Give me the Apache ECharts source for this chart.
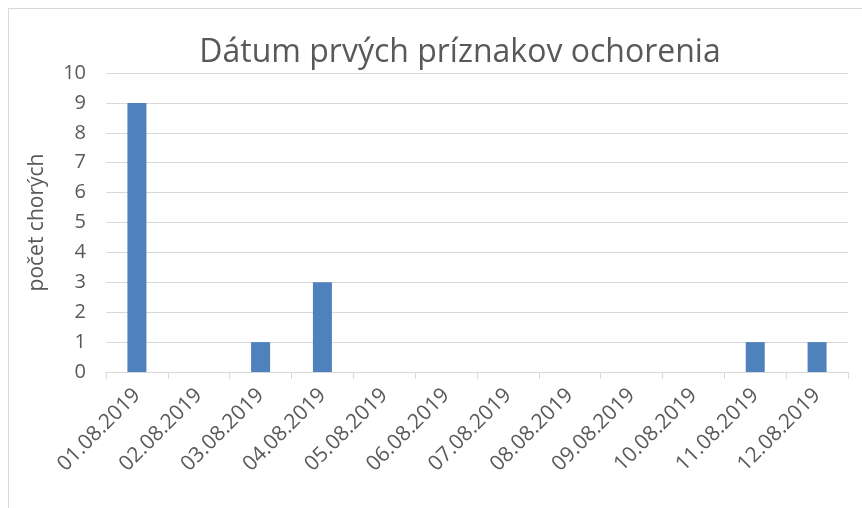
<!DOCTYPE html>
<html lang="sk">
<head>
  <meta charset="UTF-8">
  <title>Dátum prvých príznakov ochorenia</title>
  <script src="https://cdn.jsdelivr.net/npm/echarts@6/dist/echarts.min.js"></script>
</head>
<style>
  * {
    margin: 0px;
    padding: 0px;
  }

  body {
    background: #fff;
    overflow: hidden;
  }

  #frame {
    position: absolute;
    left: 8px;
    top: 8px;
    width: 900px;
    height: 600px;
    border: 1px solid #d9d9d9;
  }

  #chart {
    position: absolute;
    left: 0px;
    top: 0px;
    width: 862px;
    height: 508px;
  }
</style>

<body>
  <div id="frame"></div>
  <div id="chart"></div>
</body>
<script>
  var dates = ['01.08.2019', '02.08.2019', '03.08.2019', '04.08.2019', '05.08.2019', '06.08.2019',
    '07.08.2019', '08.08.2019', '09.08.2019', '10.08.2019', '11.08.2019', '12.08.2019'];
  var counts = [9, 0, 1, 3, 0, 0, 0, 0, 0, 0, 1, 1];

  var font = '"Open Sans", sans-serif';
  var chart = echarts.init(document.getElementById('chart'));
  chart.setOption({
    animation: false,
    title: {
      text: 'Dátum prvých príznakov ochorenia',
      left: 455,
      textAlign: 'center',
      top: 32,
      textStyle: {
        color: '#595959',
        fontSize: 32,
        fontWeight: 'normal',
        fontFamily: font
      }
    },
    grid: {
      left: 106,
      right: 14,
      top: 73,
      bottom: 136,
      containLabel: false
    },
    xAxis: {
      type: 'category',
      data: dates,
      axisLine: { lineStyle: { color: '#d9d9d9', width: 1 } },
      axisTick: { show: true, length: 7, lineStyle: { color: '#d9d9d9' } },
      axisLabel: {
        rotate: 45,
        interval: 0,
        color: '#595959',
        fontSize: 21,
        fontFamily: font,
        margin: 20
      }
    },
    yAxis: {
      type: 'value',
      min: 0,
      max: 10,
      interval: 1,
      name: 'počet chorých',
      nameLocation: 'middle',
      nameGap: 58,
      nameTextStyle: {
        color: '#595959',
        fontSize: 21,
        fontFamily: font
      },
      axisLine: { show: false },
      axisTick: { show: false },
      splitLine: { lineStyle: { color: '#d9d9d9', width: 1 } },
      axisLabel: {
        color: '#595959',
        fontSize: 20,
        fontFamily: font,
        margin: 20
      }
    },
    series: [{
      type: 'bar',
      data: counts,
      barWidth: 19,
      itemStyle: { color: '#4f81bd' }
    }]
  });
</script>

</html>
